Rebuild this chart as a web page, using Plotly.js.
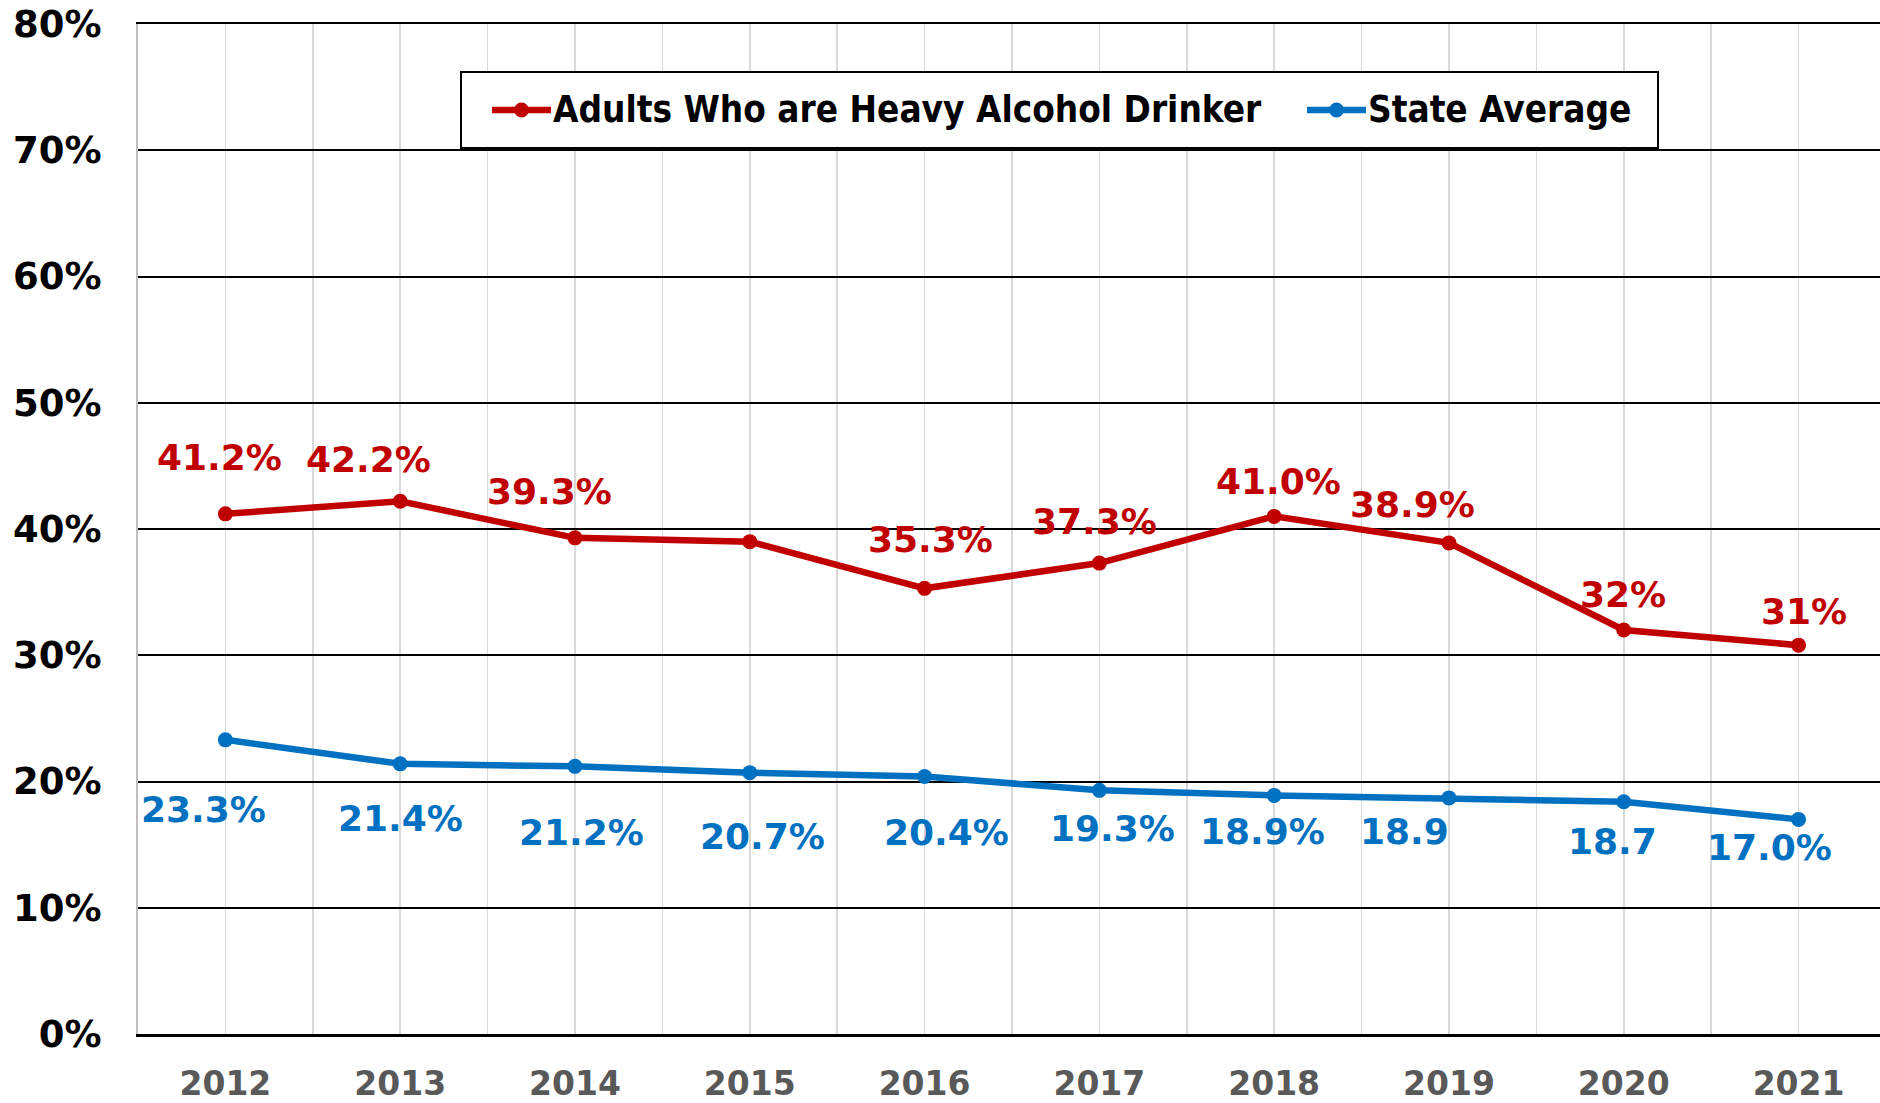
<!DOCTYPE html>
<html>
<head>
<meta charset="utf-8">
<script src="https://cdn.plot.ly/plotly-3.0.1.min.js"></script>
<style>
  html, body { margin: 0; padding: 0; background: #ffffff; overflow: hidden; }
  #chart { width: 1880px; height: 1103px; }
</style>
</head>
<body>
<div id="chart"></div>
<script>
// ---- data ----
const years = [2012, 2013, 2014, 2015, 2016, 2017, 2018, 2019, 2020, 2021];
const heavyDrinkers = [41.2, 42.2, 39.3, 39.0, 35.3, 37.3, 41.0, 38.9, 32.0, 30.8];
const stateAverage = [23.3, 21.4, 21.2, 20.7, 20.4, 19.3, 18.9, 18.7, 18.4, 17.0];
const heavyLabels = ["41.2%", "42.2%", "39.3%", "", "35.3%", "37.3%", "41.0%", "38.9%", "32%", "31%"];
const stateLabels = ["23.3%", "21.4%", "21.2%", "20.7%", "20.4%", "19.3%", "18.9%", "18.9", "18.7", "17.0%"];
const seriesNames = ["Adults Who are Heavy Alcohol Drinker", "State Average"];
const yTicks = [0, 10, 20, 30, 40, 50, 60, 70, 80];

// ---- label placement (pixel offsets from each point) ----
const heavyShiftX = [-6, -32, -25, 0, 6, -5, 4, -36, -1, 5];
const heavyShiftY = [56, 42, 46, 0, 49, 42, 35, 38, 36, 34];
const stateShiftX = [-22, 0, 7, 13, 22, 13, -12, -44, -11, -29];
const stateShiftY = [-70, -55, -66, -64, -56, -38, -36, -34, -40, -28];

const RED = "#C00000";
const BLUE = "#0070C0";
const COLORS = [RED, BLUE];
const FONT = "DejaVu Sans, Verdana, sans-serif";
const LEGEND_FONT = "DejaVu Sans Condensed, DejaVu Sans, sans-serif";

// plot-area geometry (pixels)
const W = 1880, H = 1103;
const M = { l: 138, r: 0, t: 24, b: 69 };
const plotW = W - M.l - M.r, plotH = H - M.t - M.b;
const px = v => (v - M.l) / plotW;            // pixel x -> paper x
const py = v => (H - M.b - v) / plotH;        // pixel y -> paper y

const traces = [heavyDrinkers, stateAverage].map((vals, k) => ({
  x: years, y: vals, name: seriesNames[k],
  type: "scatter", mode: "lines+markers",
  line: { color: COLORS[k], width: 6.5 },
  marker: { color: COLORS[k], size: 15 },
  hoverinfo: "skip", showlegend: false
}));

const annotations = [];
years.forEach((yr, i) => {
  if (heavyLabels[i]) {
    annotations.push({
      x: yr, y: heavyDrinkers[i], xref: "x", yref: "y",
      text: heavyLabels[i], showarrow: false,
      xshift: heavyShiftX[i], yshift: heavyShiftY[i],
      font: { family: FONT, size: 36, color: RED, weight: "bold" }
    });
  }
  if (stateLabels[i]) {
    annotations.push({
      x: yr, y: stateAverage[i], xref: "x", yref: "y",
      text: stateLabels[i], showarrow: false,
      xshift: stateShiftX[i], yshift: stateShiftY[i],
      font: { family: FONT, size: 36, color: BLUE, weight: "bold" }
    });
  }
});

// ---- legend (drawn as box + symbols + text) ----
const legendBox = { x0: 461, x1: 1658, y0: 72, y1: 148 };
const legendMidY = 110;
const legendSymbolStart = [492, 1307];
const legendSymbolLen = 59;
const legendTextStart = [551, 1366];

const shapes = [{
  type: "rect", xref: "paper", yref: "paper", layer: "above",
  x0: px(legendBox.x0), x1: px(legendBox.x1), y0: py(legendBox.y1), y1: py(legendBox.y0),
  line: { color: "#000000", width: 2 }, fillcolor: "#ffffff"
}];
seriesNames.forEach((nm, k) => {
  const s = legendSymbolStart[k];
  shapes.push({
    type: "line", xref: "paper", yref: "paper", layer: "above",
    x0: px(s), x1: px(s + legendSymbolLen), y0: py(legendMidY), y1: py(legendMidY),
    line: { color: COLORS[k], width: 6.5 }
  });
  const c = s + legendSymbolLen / 2;
  shapes.push({
    type: "circle", xref: "paper", yref: "paper", layer: "above",
    x0: px(c - 7.5), x1: px(c + 7.5), y0: py(legendMidY + 7.5), y1: py(legendMidY - 7.5),
    line: { color: COLORS[k], width: 0 }, fillcolor: COLORS[k]
  });
  annotations.push({
    x: px(legendTextStart[k]), y: py(legendMidY), xref: "paper", yref: "paper",
    xanchor: "left", yanchor: "middle", showarrow: false,
    text: nm,
    font: { family: LEGEND_FONT, size: 36.6, color: "#000000", weight: "bold" }
  });
});

const layout = {
  width: W, height: H,
  margin: { l: M.l, r: M.r, t: M.t, b: M.b, pad: 0 },
  paper_bgcolor: "#ffffff", plot_bgcolor: "#ffffff",
  showlegend: false,
  xaxis: {
    range: [2011.5, 2021.466],
    tickmode: "linear", tick0: 2012, dtick: 1, tickformat: "d",
    showgrid: true, gridcolor: "#d9d9d9", gridwidth: 1.5,
    minor: { tick0: 2011.5, dtick: 0.5, showgrid: true, gridcolor: "#d9d9d9", gridwidth: 1.5 },
    showline: true, mirror: true, linecolor: "#000000", linewidth: 2.5,
    zeroline: false, ticks: "",
    ticklabelstandoff: 19,
    tickfont: { family: FONT, size: 33, color: "#595959", weight: "bold" },
    fixedrange: true
  },
  yaxis: {
    range: [0, 80],
    tickmode: "array", tickvals: yTicks, ticktext: yTicks.map(v => v + "%"),
    showgrid: true, gridcolor: "#000000", gridwidth: 2,
    showline: true, linecolor: "#bfbfbf", linewidth: 2,
    zeroline: false, ticks: "",
    ticklabelstandoff: 27,
    tickfont: { family: FONT, size: 37, color: "#000000", weight: "bold" },
    fixedrange: true
  },
  shapes: shapes,
  annotations: annotations
};

Plotly.newPlot("chart", traces, layout, { displayModeBar: false, staticPlot: true });
</script>
</body>
</html>
